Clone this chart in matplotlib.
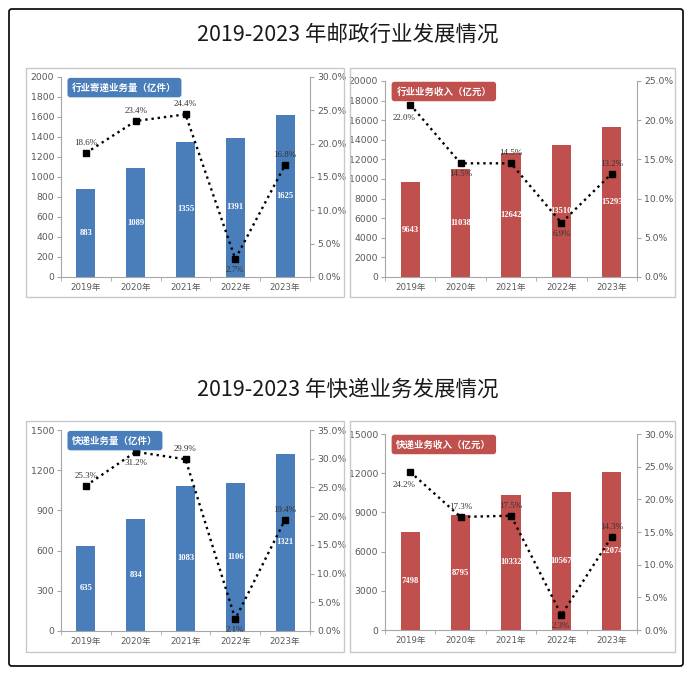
import matplotlib
matplotlib.use('Agg')
from matplotlib import pyplot as plt
from matplotlib.patches import Rectangle, FancyBboxPatch
from matplotlib.ticker import FuncFormatter, MultipleLocator, FixedLocator
import numpy as np

plt.rcParams['font.family'] = ['DejaVu Sans', 'Noto Sans CJK SC']

# Data
years = ['2019年', '2020年', '2021年', '2022年', '2023年']

post_volume = [883, 1089, 1355, 1391, 1625]
post_volume_growth = [18.6, 23.4, 24.4, 2.7, 16.8]

post_revenue = [9643, 11038, 12642, 13510, 15293]
post_revenue_growth = [22.0, 14.5, 14.5, 6.9, 13.2]

exp_volume = [635, 834, 1083, 1106, 1321]
exp_volume_growth = [25.3, 31.2, 29.9, 2.1, 19.4]

exp_revenue = [7498, 8795, 10332, 10567, 12074]
exp_revenue_growth = [24.2, 17.3, 17.5, 2.3, 14.3]

W, H = 695, 677
BLUE = '#4a7ebb'
RED = '#c0504d'
GRAY = '#595959'
SPINE = '#a6a6a6'

fig = plt.figure(figsize=(W / 100, H / 100), dpi=100)


def px_rect(x0, x1, ytop, ybot):
    return [x0 / W, 1 - ybot / H, (x1 - x0) / W, (ybot - ytop) / H]


def px(v):
    return v * 72 / 100  # pixels -> points


# outer frame and panel boxes
fig.patches.append(FancyBboxPatch((9 / W, 1 - 666 / H), 674 / W, 657 / H,
                                  boxstyle='round,pad=0,rounding_size=0.004',
                                  transform=fig.transFigure, fill=False,
                                  edgecolor='black', linewidth=1.2))
for (x0, x1, yt, yb) in [(26, 344, 68, 297), (350, 675, 68, 297),
                         (26, 344, 421, 652), (350, 675, 421, 652)]:
    fig.patches.append(Rectangle((x0 / W, 1 - yb / H), (x1 - x0) / W, (yb - yt) / H,
                                 transform=fig.transFigure, fill=False,
                                 edgecolor='#c8c8c8', linewidth=1.0))

fig.text(348 / W, 1 - 35 / H, '2019-2023 年邮政行业发展情况',
         ha='center', va='center', fontsize=15.5, family='Noto Sans CJK SC', color='#1a1a1a')
fig.text(348 / W, 1 - 390 / H, '2019-2023 年快递业务发展情况',
         ha='center', va='center', fontsize=15.5, family='Noto Sans CJK SC', color='#1a1a1a')

OFFS = {'up': (0, 10), 'down': (0, -11), 'dl': (-6, -13)}


def panel(rect, bars, growth, color, label, ymax, ystep, pmax, positions):
    ax = fig.add_axes(rect)
    x = np.arange(len(years))
    ax.bar(x, bars, width=0.38, color=color, zorder=2)
    for xi, v in zip(x, bars):
        ax.text(xi, v / 2, str(v), ha='center', va='center', color='white',
                fontsize=6.2, fontweight='bold', family='Liberation Serif', zorder=3)
    ax.set_xlim(-0.5, len(years) - 0.5)
    ax.set_ylim(0, ymax)
    ax.yaxis.set_major_locator(MultipleLocator(ystep))
    ax.set_xticks(x)
    ax.set_xticklabels(years)
    ax.xaxis.set_minor_locator(FixedLocator(np.arange(-0.5, len(years), 1.0)))
    ax.tick_params(axis='x', which='major', length=0, labelsize=6.2, labelcolor=GRAY, pad=4)
    ax.tick_params(axis='x', which='minor', length=3, color=SPINE)
    ax.tick_params(axis='y', length=3, color=SPINE, labelsize=6.7, labelcolor=GRAY, pad=2)
    for s in ['top', 'right']:
        ax.spines[s].set_visible(False)
    for s in ['left', 'bottom']:
        ax.spines[s].set_color(SPINE)
        ax.spines[s].set_linewidth(0.8)

    ax2 = ax.twinx()
    ax2.plot(x, growth, color='black', linestyle=':', linewidth=1.7,
             marker='s', markersize=4.2, markerfacecolor='black', zorder=4)
    ax2.set_ylim(0, pmax)
    ax2.yaxis.set_major_locator(MultipleLocator(5))
    ax2.yaxis.set_major_formatter(FuncFormatter(lambda v, _: f'{v:.1f}%'))
    ax2.tick_params(axis='y', length=3, color=SPINE, labelsize=6.7, labelcolor=GRAY, pad=2)
    for s in ['top', 'left', 'bottom']:
        ax2.spines[s].set_visible(False)
    ax2.spines['right'].set_color(SPINE)
    ax2.spines['right'].set_linewidth(0.8)
    for xi, g, p in zip(x, growth, positions):
        dx, dy = OFFS[p]
        ax2.annotate(f'{g:.1f}%', (xi, g), xytext=(px(dx), px(dy)), textcoords='offset points',
                     ha='center', va='center', fontsize=6.5, color='#333333',
                     family='Liberation Serif', zorder=5)

    ax2.text(0.045, 0.972, label, transform=ax2.transAxes, ha='left', va='top',
             color='white', fontsize=6.8, fontweight='bold', family='Noto Sans CJK SC',
             bbox=dict(boxstyle='round,pad=0.5,rounding_size=0.3', facecolor=color,
                       edgecolor='none'), zorder=6)
    return ax, ax2


panel(px_rect(61, 310, 77, 277), post_volume, post_volume_growth, BLUE,
      '行业寄递业务量（亿件）', 2000, 200, 30, ['up', 'up', 'up', 'down', 'up'])
panel(px_rect(385, 637, 81, 277), post_revenue, post_revenue_growth, RED,
      '行业业务收入（亿元）', 20000, 2000, 25, ['dl', 'down', 'up', 'down', 'up'])
panel(px_rect(61, 310, 430, 631), exp_volume, exp_volume_growth, BLUE,
      '快递业务量（亿件）', 1500, 300, 35, ['up', 'down', 'up', 'down', 'up'])
panel(px_rect(385, 637, 434, 630), exp_revenue, exp_revenue_growth, RED,
      '快递业务收入（亿元）', 15000, 3000, 30, ['dl', 'up', 'up', 'down', 'up'])

plt.savefig('out.png', dpi=100)
